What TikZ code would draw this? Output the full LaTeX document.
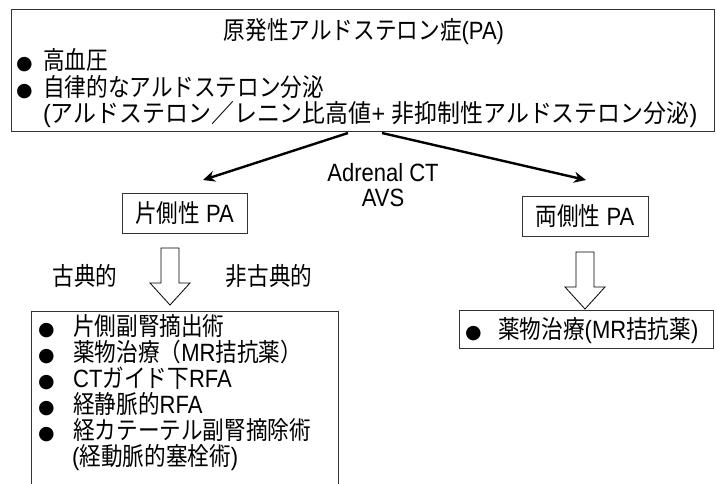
\documentclass[tikz,border=0pt]{standalone}
\usepackage{fontspec}
\setmainfont{Noto Sans CJK JP}[FakeStretch=0.865]
\newfontfamily\ar{Liberation Sans}[FakeStretch=0.88]
\newfontfamily\dv{DejaVu Sans}
\usetikzlibrary{arrows.meta}
\tikzset{
  txt/.style={inner sep=0pt, font=\fontsize{25}{29}\selectfont},
  lab/.style={txt, anchor=base west},
  latin/.style={txt, font=\ar\fontsize{25}{29}\selectfont},
  boxline/.style={draw=black!80, line width=0.9pt},
  bigarrow/.style={line width=2.4pt, -{Stealth[length=12pt,width=11pt]}},
  hollowarrow/.pic={\draw[line width=0.8pt, fill=white] (-9,0) -- (9,0) -- (9,35) -- (20,35) -- (0,57) -- (-20,35) -- (-9,35) -- cycle;}
}
\newcommand{\bul}[1]{\makebox[#1][l]{\dv\fontsize{19}{19}\selectfont ●}}
\begin{document}
\begin{tikzpicture}[x=1pt,y=-1pt]
\useasboundingbox (0,0) rectangle (716,483);
\clip (0,0) rectangle (716,483);
% top box
\node[boxline, minimum width=703pt, minimum height=122pt, anchor=north west, inner sep=0] (pa) at (11,9) {};
\node[txt, anchor=base] (title) at (364,39) {原発性アルドステロン症{\ar (PA)}};
\node[lab] (t1) at (16,69) {\bul{27pt}高血圧};
\node[lab] (t2) at (16,96) {\bul{27pt}自律的なアルドステロン分泌};
\node[lab] (t3) at (43,122) {\scalebox{1.06}[1]{{\ar (}アルドステロン／レニン比高値{\ar + }非抑制性アルドステロン分泌{\ar )}}};
% diagnosis arrows
\coordinate (ls) at (348,133);
\coordinate (rs) at (382,133);
\coordinate (lt) at (203,180);
\coordinate (rt) at (586,180);
\draw[bigarrow] (ls) -- (lt);
\draw[bigarrow] (rs) -- (rt);
\node[latin, anchor=base] (ct) at (383,181) {Adrenal CT};
\node[latin, anchor=base] (avs) at (383,206) {AVS};
% subtype boxes
\node[boxline, txt, minimum width=125pt, minimum height=40pt] (uni) at (184.5,213) {片側性{\ar\ PA}};
\node[boxline, txt, minimum width=126pt, minimum height=40pt] (bil) at (585,216) {両側性{\ar\ PA}};
% hollow arrows
\pic at (170,248) {hollowarrow};
\pic at (585,252) {hollowarrow};
\node[txt, anchor=base] (cl) at (85,285) {古典的};
\node[txt, anchor=base] (ncl) at (269,285) {非古典的};
% left treatment box
\draw[boxline] (31,500) -- (31,311) -- (338,311) -- (338,500);
\node[lab] (u1) at (38,335) {\bul{35pt}片側副腎摘出術};
\node[lab] (u2) at (38,361) {\bul{35pt}薬物治療（{\ar MR}拮抗薬）};
\node[lab] (u3) at (38,387) {\bul{35pt}{\ar CT}ガイド下{\ar RFA}};
\node[lab] (u4) at (38,413) {\bul{35pt}経静脈的{\ar RFA}};
\node[lab] (u5) at (38,439) {\bul{35pt}経カテーテル副腎摘除術};
\node[lab] (u6) at (72,465) {{\ar (}経動脈的塞栓術{\ar )}};
% right treatment box
\node[boxline, minimum width=254pt, minimum height=38pt, anchor=north west, inner sep=0] (bt) at (459,310) {};
\node[lab] (b1) at (465,338) {\bul{33pt}薬物治療{\ar (MR}拮抗薬{\ar )}};
\end{tikzpicture}
\end{document}
